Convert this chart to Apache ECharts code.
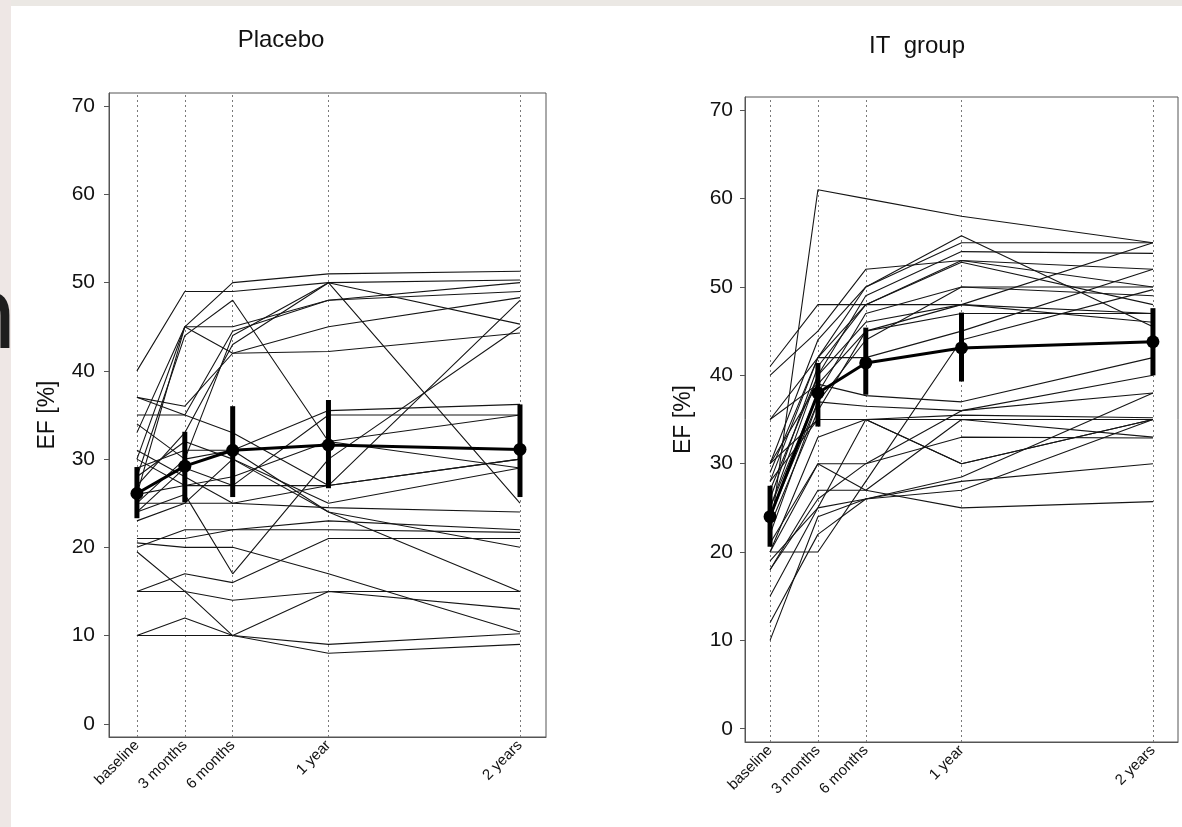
<!DOCTYPE html>
<html>
<head>
<meta charset="utf-8">
<title>EF Placebo vs IT group</title>
<script src="https://cdn.jsdelivr.net/npm/echarts@6/dist/echarts.min.js"></script>
<style>
html, body { margin: 0; padding: 0; background: #fff; }
#chart { width: 1182px; height: 827px; }
</style>
</head>
<body>
<div id="chart"></div>
<script>
// time points in months and their labels
var months = [0, 3, 6, 12, 24];
var timeLabels = ['baseline', '3 months', '6 months', '1 year', '2 years'];
var yTicks = [0, 10, 20, 30, 40, 50, 60, 70];

// EF [%] per patient at baseline, 3 months, 6 months, 1 year, 2 years
var placeboPatients = [
	[40, 49, 49, 50, 50.3],
	[33, 45, 50, 51, 51.3],
	[28, 44, 48, 32, 29],
	[25, 30, 44, 50, 25],
	[37, 36, 42, 45, 48.3],
	[26, 45, 45, 48, 50],
	[30, 45, 42, 42.2, 44.3],
	[35, 35, 44.5, 48, 49],
	[27, 33, 43, 50, 45.3],
	[24, 29, 27, 35, 35],
	[29, 31, 31, 35.5, 36.2],
	[31, 28, 25, 27, 48],
	[24, 26, 17, 30, 45],
	[26, 27, 27, 27, 30],
	[25, 25, 30, 25, 29],
	[23, 25, 25, 24.5, 24],
	[21, 21, 22, 23, 22],
	[20, 22, 22, 22, 21.7],
	[20.5, 20, 20, 17, 10.4],
	[15, 17, 16, 21, 21],
	[15, 15, 14, 15, 13],
	[10, 10, 10, 15, 15],
	[10, 12, 10, 9, 10.2],
	[19.5, 15, 10, 8, 9],
	[34, 30, 31, 24, 20],
	[28, 32, 30, 24, 15],
	[30, 27, 28, 32, 35],
	[37, 35, 33, 27, 30]
];
var placeboMean = [26.1, 29.2, 31.0, 31.6, 31.1];
var placeboLow = [23.3, 25.1, 25.7, 26.7, 25.7];
var placeboHigh = [29.1, 33.1, 36.0, 36.7, 36.2];

var itPatients = [
	[22, 61, 60, 58, 55],
	[41, 48, 48, 48, 47],
	[40, 45, 52, 53, 50],
	[30, 44, 50, 55.8, 45.5],
	[28, 42, 50, 55, 55],
	[25, 40, 49, 54, 53.8],
	[26, 41, 48, 52.8, 48],
	[35, 42, 42, 45, 52],
	[30, 39, 45, 48, 55],
	[24, 37, 44, 50, 50],
	[35, 39, 37.7, 37, 42],
	[22, 37, 36.5, 36, 38],
	[28, 35, 35, 35, 35],
	[30, 35, 35, 35.5, 35.2],
	[20, 33, 35, 30, 35],
	[18, 27, 27, 35, 33],
	[20, 20, 28, 44, 49.7],
	[21, 30, 30, 36, 40],
	[15, 25, 26, 28, 30],
	[10, 24, 26, 28.5, 38],
	[20, 30, 27, 25, 25.7],
	[12, 22, 26, 27, 35],
	[18, 26, 30, 33, 32.9],
	[25, 38, 47, 50, 49],
	[23, 36, 45, 47, 47],
	[27, 40, 46, 48, 46],
	[29, 42, 48, 53, 52],
	[19, 25, 35, 30, 35]
];
var itMean = [24.0, 38.0, 41.4, 43.1, 43.8];
var itLow = [20.6, 34.2, 37.8, 39.3, 40.0];
var itHigh = [27.5, 41.4, 45.4, 47.1, 47.6];

var labelFont = 'Liberation Sans';

function pairs(_vals) {
	var out = [];
	for(var i = 0; i < months.length; i++) {
		out.push([months[i], _vals[i]]);
	}
	return out;
}

function renderErrBar(params, api) {
	var p1 = api.coord([api.value(0), api.value(1)]);
	var p2 = api.coord([api.value(0), api.value(2)]);
	return {
		type: 'line',
		shape: { x1: p1[0], y1: p1[1], x2: p2[0], y2: p2[1] },
		style: { stroke: '#000', lineWidth: 5 }
	};
}

function buildSeries(_patients, _mean, _low, _high, _idx) {
	var list = [];
	for(var i = 0; i < _patients.length; i++) {
		list.push({
			type: 'line',
			xAxisIndex: _idx,
			yAxisIndex: _idx,
			data: pairs(_patients[i]),
			symbol: 'none',
			silent: true,
			lineStyle: { color: '#151515', width: 1.1 },
			z: 3
		});
	}
	// dotted verticals at each visit
	list[0].markLine = {
		silent: true,
		symbol: ['none', 'none'],
		label: { show: false },
		lineStyle: { color: '#7a7a7a', type: [2, 3], width: 1 },
		data: months.map(function(m) { return { xAxis: m }; }),
		z: 1
	};
	var bars = [];
	for(var j = 0; j < months.length; j++) {
		bars.push([months[j], _low[j], _high[j]]);
	}
	list.push({
		type: 'custom',
		xAxisIndex: _idx,
		yAxisIndex: _idx,
		renderItem: renderErrBar,
		data: bars,
		encode: { x: 0, y: [1, 2] },
		z: 5
	});
	list.push({
		type: 'line',
		xAxisIndex: _idx,
		yAxisIndex: _idx,
		data: pairs(_mean),
		symbol: 'circle',
		symbolSize: 13,
		itemStyle: { color: '#000' },
		lineStyle: { color: '#000', width: 3 },
		z: 6
	});
	return list;
}

function xAxisOpt(_idx, _min, _max) {
	return {
		type: 'value',
		gridIndex: _idx,
		min: _min,
		max: _max,
		axisLine: { show: true, onZero: false, lineStyle: { color: '#555', width: 1 } },
		axisTick: { show: false },
		splitLine: { show: false },
		axisLabel: {
			customValues: months,
			rotate: 45,
			margin: 6,
			fontFamily: labelFont,
			fontSize: 15,
			color: '#111',
			formatter: function(v) {
				var k = months.indexOf(v);
				return k < 0 ? '' : timeLabels[k];
			}
		}
	};
}

function yAxisOpt(_idx, _margin) {
	return {
		type: 'value',
		gridIndex: _idx,
		min: -1.5,
		max: 71.5,
		name: 'EF [%]',
		nameLocation: 'middle',
		nameRotate: 90,
		nameGap: 50,
		nameTextStyle: { fontFamily: labelFont, fontSize: 23, color: '#111' },
		axisLine: { show: true, onZero: false, lineStyle: { color: '#555', width: 1 } },
		axisTick: { show: true, customValues: yTicks, length: 5, lineStyle: { color: '#555' } },
		splitLine: { show: false },
		axisLabel: {
			customValues: yTicks,
			margin: _margin,
			fontFamily: labelFont,
			fontSize: 21,
			color: '#111'
		}
	};
}

var chartOption = {
	animation: false,
	backgroundColor: '#fff',
	graphic: [
		{ type: 'rect', shape: { x: 0, y: 0, width: 1182, height: 6 }, style: { fill: '#ebe8e4' }, z: -10 },
		{ type: 'rect', shape: { x: 0, y: 0, width: 11, height: 827 }, style: { fill: '#eee7e5' }, z: -10 },
		{ type: 'text', x: 18, y: 322, style: { text: 'n', font: '100px "DejaVu Sans"', fill: '#1e1e1e', textAlign: 'right', textVerticalAlign: 'middle' } },
		{ type: 'text', x: 281, y: 40, style: { text: 'Placebo', font: '24px "Liberation Sans"', fill: '#111', textAlign: 'center', textVerticalAlign: 'middle' } },
		{ type: 'text', x: 917, y: 46, style: { text: 'IT  group', font: '24px "Liberation Sans"', fill: '#111', textAlign: 'center', textVerticalAlign: 'middle' } }
	],
	grid: [
		{ left: 109, top: 93, width: 437, height: 644, show: true, borderColor: '#555', borderWidth: 1, backgroundColor: 'transparent', outerBoundsMode: 'none' },
		{ left: 745, top: 97, width: 433, height: 645, show: true, borderColor: '#555', borderWidth: 1, backgroundColor: 'transparent', outerBoundsMode: 'none' }
	],
	xAxis: [xAxisOpt(0, -1.75, 25.63), xAxisOpt(1, -1.57, 25.57)],
	yAxis: [yAxisOpt(0, 14), yAxisOpt(1, 12)],
	series: buildSeries(placeboPatients, placeboMean, placeboLow, placeboHigh, 0)
		.concat(buildSeries(itPatients, itMean, itLow, itHigh, 1))
};

var lineChart = echarts.init(document.getElementById('chart'));
lineChart.setOption(chartOption);
</script>
</body>
</html>
